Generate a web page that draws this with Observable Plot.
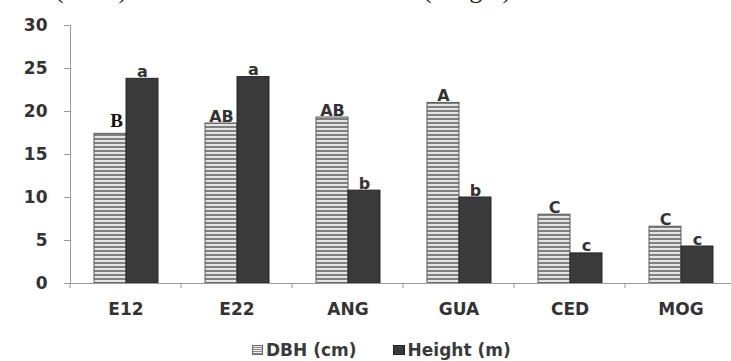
<!DOCTYPE html>
<html><head><meta charset="utf-8">
<script src="https://cdn.jsdelivr.net/npm/d3@7"></script>
<script src="https://cdn.jsdelivr.net/npm/@observablehq/plot@0.6"></script>
<style>
body{margin:0;background:#fff;position:relative;width:731px;height:361px;overflow:hidden;font-family:"DejaVu Sans";}
#top span{position:absolute;top:-25px;font:26px "Liberation Serif";color:#222;white-space:nowrap;}
#chart{position:absolute;left:0;top:0;}
#legend{position:absolute;left:252px;top:341px;font:bold 17px "DejaVu Sans";color:#3a3a3a;display:flex;align-items:center;white-space:nowrap;line-height:18px;}
.sw{display:inline-block;width:9px;height:8px;margin-right:3px;}
.sw.dbh{background:repeating-linear-gradient(#eee 0 1px,#8a8a8a 1px 2px);border:1px solid #666;}
.sw.hgt{background:#3a3a3a;border:1px solid #222;margin-left:36px;width:10px;}
</style></head><body>
<div id="top"><span style="left:55px">(DBH)</span><span style="left:423px">(Height)</span></div>
<div id="chart"></div>
<div id="legend"><span class="sw dbh"></span><span>DBH (cm)</span><span class="sw hgt"></span><span>Height (m)</span></div>
<script>
const categories = ["E12", "E22", "ANG", "GUA", "CED", "MOG"];
const series = ["DBH (cm)", "Height (m)"];
const dbh = [17.4, 18.6, 19.3, 21.0, 8.0, 6.6];
const heightM = [23.8, 24.0, 10.8, 10.0, 3.5, 4.3];
const dbhLetters = ["B", "AB", "AB", "A", "C", "C"];
const heightLetters = ["a", "a", "b", "b", "c", "c"];
const yTicks = [0, 5, 10, 15, 20, 25, 30];

const data = categories.flatMap((c, i) => [
  {cat: c, s: series[0], v: dbh[i], l: dbhLetters[i], serif: i === 0},
  {cat: c, s: series[1], v: heightM[i], l: heightLetters[i], serif: false}
]);
const dbhData = data.filter(d => d.s === series[0]);
const hData = data.filter(d => d.s === series[1]);

const chart = Plot.plot({
  width: 731, height: 330,
  marginLeft: 69, marginTop: 25, marginBottom: 47, marginRight: 0,
  style: {fontFamily: "DejaVu Sans", fontWeight: "bold", fontSize: "17px", color: "#333", background: "transparent", overflow: "visible"},
  fx: {domain: categories, range: [69, 736], padding: 0, label: null, axis: "bottom", tickSize: 0, tickPadding: 19},
  x: {domain: series, paddingInner: 0, paddingOuter: 0.73, axis: null},
  y: {domain: [0, 30], axis: null},
  marks: [
    Plot.barY(dbhData, {fx: "cat", x: "s", y: "v", fill: "url(#dbh-stripes)", stroke: "#5a5a5a", strokeWidth: 1}),
    Plot.barY(hData, {fx: "cat", x: "s", y: "v", fill: "#3a3a3a", stroke: "#262626", strokeWidth: 1}),
    Plot.ruleY([0], {stroke: "#9a9a9a"}),
    Plot.axisY({ticks: yTicks, tickSize: 6, tickPadding: 17, stroke: "#9a9a9a", fill: "#333", label: null}),
    Plot.frame({anchor: "left", facetAnchor: "left", stroke: "#9a9a9a"}),
    Plot.text(data.filter(d => !d.serif), {fx: "cat", x: "s", y: "v", text: "l", lineAnchor: "bottom", dy: -2, fontSize: 16, fill: "#333"}),
    Plot.text(data.filter(d => d.serif), {fx: "cat", x: "s", y: "v", text: "l", lineAnchor: "bottom", dy: -7, dx: 6, fontSize: 19, fontFamily: "Liberation Serif", fill: "#111"})
  ]
});

const svg = d3.select(chart);
const defs = svg.insert("defs", ":first-child");
const pat = defs.append("pattern").attr("id", "dbh-stripes").attr("patternUnits", "userSpaceOnUse").attr("width", 4).attr("height", 4);
pat.append("rect").attr("width", 4).attr("height", 4).attr("fill", "#e4e4e4");
pat.append("rect").attr("y", 2).attr("width", 4).attr("height", 2).attr("fill", "#808080");

// category boundary ticks (Excel-style) derived from the fx scale
const fx = chart.scale("fx");
const y = chart.scale("y");
const y0 = y.apply(0);
const g = svg.append("g").attr("stroke", "#9a9a9a");
categories.forEach(c => {
  const x0 = fx.apply(c);
  g.append("line").attr("x1", x0).attr("x2", x0).attr("y1", y0).attr("y2", y0 + 5);
});

document.getElementById("chart").appendChild(chart);
</script>
</body></html>
